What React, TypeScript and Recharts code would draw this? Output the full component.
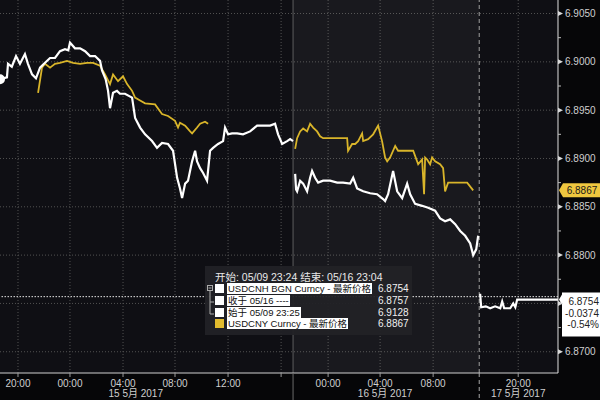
import React from 'react';
import {
  LineChart,
  Line,
  XAxis,
  YAxis,
  CartesianGrid,
  ReferenceLine,
  ReferenceArea,
  ReferenceDot,
} from 'recharts';

const FONT = '"Liberation Sans", Arial, "Noto Sans CJK SC", sans-serif';

// x = hours along Bloomberg's compressed session axis, y = price
const cnhSession1: [number, number][] = [
  [0.0, 6.8982], [0.53, 6.8984], [0.61, 6.8998], [0.9, 6.8995], [1.22, 6.9006],
  [1.52, 6.8998], [1.9, 6.9008], [2.13, 6.8998], [2.44, 6.8987], [2.74, 6.8983],
  [3.05, 6.8994], [3.43, 6.8999], [3.81, 6.9004], [4.19, 6.9004], [4.57, 6.9011],
  [4.95, 6.9013], [5.2, 6.9012], [5.33, 6.902], [5.71, 6.9014], [6.1, 6.9014],
  [6.48, 6.9011], [6.86, 6.9006], [7.24, 6.9006], [7.62, 6.9001], [7.77, 6.8991],
  [8.05, 6.8982], [8.23, 6.897], [8.38, 6.8952], [8.61, 6.8968], [8.91, 6.897],
  [9.14, 6.8967], [9.52, 6.8967], [10.06, 6.8963], [10.29, 6.8942], [10.67, 6.8932],
  [11.05, 6.8925], [11.58, 6.8918], [11.96, 6.8911], [12.34, 6.8916], [12.8, 6.8915],
  [13.18, 6.8908], [13.49, 6.888], [13.71, 6.8869], [13.87, 6.8859], [14.1, 6.8874],
  [14.32, 6.8877], [14.63, 6.8897], [14.86, 6.8908], [15.01, 6.8897], [15.24, 6.889],
  [15.47, 6.8885], [15.77, 6.8877], [16.0, 6.8908], [16.23, 6.8911], [16.61, 6.8915],
  [16.99, 6.8918], [17.14, 6.8932], [17.37, 6.8925], [17.68, 6.8926], [18.06, 6.8926],
  [18.51, 6.8925], [19.05, 6.8928], [19.58, 6.8934], [20.04, 6.8934], [20.57, 6.8934],
  [20.95, 6.8936], [21.18, 6.8925], [21.49, 6.8915], [21.87, 6.8918], [22.1, 6.892],
  [22.32, 6.8918],
];

const cnhSession2: [number, number][] = [
  [22.48, 6.8884], [22.55, 6.8868], [22.63, 6.8866], [22.86, 6.8877], [23.09, 6.8874],
  [23.39, 6.8866], [23.62, 6.888], [23.77, 6.8887], [24.0, 6.888], [24.23, 6.8875],
  [24.61, 6.8877], [25.14, 6.8877], [25.68, 6.8875], [26.13, 6.8875], [26.67, 6.8874],
  [26.9, 6.888], [27.2, 6.8869], [27.66, 6.8866], [28.19, 6.8864], [28.72, 6.8863],
  [29.18, 6.8858], [29.33, 6.8856], [29.56, 6.8863], [29.94, 6.8887], [30.25, 6.8866],
  [30.63, 6.8859], [31.01, 6.8874], [31.24, 6.8863], [31.62, 6.8853], [32.15, 6.8851],
  [32.61, 6.8849], [33.14, 6.8846], [33.52, 6.8838], [33.9, 6.8835], [34.29, 6.8837],
  [34.67, 6.8832], [35.05, 6.8825], [35.43, 6.882], [35.81, 6.8812], [36.04, 6.88],
  [36.27, 6.8806], [36.42, 6.882],
];

const cnhSession3: [number, number][] = [
  [36.57, 6.876], [36.65, 6.8746], [37.0, 6.8747], [37.33, 6.8745], [37.71, 6.8747],
  [38.1, 6.8745], [38.25, 6.8752], [38.4, 6.8745], [38.86, 6.8745], [39.09, 6.875],
  [39.25, 6.8746], [39.39, 6.8754], [42.5, 6.8754],
];

const cnySession1: [number, number][] = [
  [2.9, 6.8968], [3.2, 6.8994], [3.43, 6.8998], [3.81, 6.8994], [4.19, 6.8998],
  [4.57, 6.8999], [5.1, 6.9001], [5.56, 6.8999], [6.1, 6.8998], [6.63, 6.8999],
  [7.09, 6.8999], [7.62, 6.8996], [8.0, 6.8987], [8.38, 6.8977], [8.61, 6.8987],
  [8.99, 6.898], [9.37, 6.8985], [9.68, 6.8977], [10.06, 6.897], [10.29, 6.8963],
  [10.67, 6.896], [11.05, 6.8957], [11.81, 6.8956], [12.34, 6.8946], [12.8, 6.8944],
  [13.33, 6.8939], [13.56, 6.8932], [13.71, 6.8937], [14.1, 6.8934], [14.48, 6.8928],
  [14.63, 6.8926], [15.01, 6.8932], [15.24, 6.8936], [15.62, 6.8938], [15.85, 6.8936],
];

const cnySession2: [number, number][] = [
  [22.48, 6.891], [22.63, 6.8921], [22.86, 6.8928], [23.09, 6.8931], [23.39, 6.8928],
  [23.62, 6.8936], [23.85, 6.8932], [24.15, 6.8928], [24.38, 6.8923], [24.61, 6.8921],
  [26.44, 6.8921], [26.51, 6.8908], [26.82, 6.8915], [27.05, 6.8915], [27.28, 6.8918],
  [27.58, 6.8926], [27.66, 6.8918], [28.04, 6.892], [28.42, 6.8925], [28.8, 6.8934],
  [29.1, 6.8918], [29.33, 6.8901], [29.49, 6.8897], [29.71, 6.8901], [30.1, 6.8913],
  [30.32, 6.8908], [30.7, 6.8908], [31.47, 6.8908], [31.85, 6.8894], [32.15, 6.8899],
  [32.3, 6.8863], [32.38, 6.8901], [32.53, 6.8899], [32.76, 6.8894], [32.91, 6.8901],
  [33.14, 6.8897], [33.52, 6.8894], [33.75, 6.889], [33.9, 6.8866], [34.13, 6.8875],
  [34.29, 6.8875], [35.58, 6.8875], [36.04, 6.8867],
];

const timeTickHours = [1.37, 5.33, 9.37, 13.33, 17.37, 24.99, 28.95, 32.99, 39.47];
const timeTickLabels = ['20:00', '00:00', '04:00', '08:00', '12:00', '00:00', '04:00', '08:00', '20:00'];
const gridHours = [1.37, 5.33, 9.37, 13.33, 17.37, 21.41, 24.99, 28.95, 32.99, 39.47];
const dayBreakHours = [22.32, 36.5];
const dateTickHours = [10.34, 29.33, 39.47];
const dateTickLabels = ['15 5月 2017', '16 5月 2017', '17 5月 2017'];

const yMajor = [6.87, 6.875, 6.88, 6.885, 6.89, 6.895, 6.9, 6.905];
// 6.8750 sits under the last-price box, so it gets no label
const yLabelled = [6.87, 6.88, 6.885, 6.89, 6.895, 6.9, 6.905];
const yTicks = [
  6.87, 6.8725, 6.875, 6.8775, 6.88, 6.8825, 6.885, 6.8875,
  6.89, 6.8925, 6.895, 6.8975, 6.9, 6.9025, 6.905,
];

const lastCnh = 6.8754;
const prevClose = 6.8757;
const lastCny = 6.8867;
const change = '-0.0374';
const changePct = '-0.54%';

const legendHeader = '开始: 05/09 23:24 结束: 05/16 23:04';
const legendLabels = ['USDCNH BGN Curncy - 最新价格', '收于 05/16 ----', '始于 05/09 23:25', 'USDCNY Curncy - 最新价格'];
const legendValues = ['6.8754', '6.8757', '6.9128', '6.8867'];
const legendSwatches = ['#ffffff', '#ffffff', '#ffffff', '#e2bb2e'];

const WHITE = '#ffffff';
const YELLOW = '#d9b52a';

const toPoints = (rows: [number, number][]) => rows.map(([t, v]) => ({ t, v }));

const TimeTick = (props: any) => {
  const { x, y, payload } = props;
  const v = payload.value;
  const idx = timeTickHours.indexOf(v);
  const brk = dayBreakHours.indexOf(v);
  return (
    <g>
      {brk >= 0 ? (
        <line x1={x} x2={x} y1={y} y2={y + 27} stroke={brk === 0 ? '#6a6a6a' : '#a8a8a8'} strokeDasharray={brk === 0 ? undefined : '4 3'} />
      ) : (
        <line x1={x} x2={x} y1={y} y2={y + 4} stroke="#9a9a9a" />
      )}
      {idx >= 0 && (
        <text x={x} y={y + 14} textAnchor="middle" fill="#cfcfcf" fontSize={10} fontFamily={FONT}>
          {timeTickLabels[idx]}
        </text>
      )}
    </g>
  );
};

const DateTick = (props: any) => {
  const { x, y, payload } = props;
  const idx = dateTickHours.indexOf(payload.value);
  return (
    <text x={x} y={y + 11} textAnchor="middle" fill="#cfcfcf" fontSize={10} fontFamily={FONT}>
      {dateTickLabels[idx]}
    </text>
  );
};

const PriceTick = (props: any) => {
  const { x, y, payload } = props;
  const major = yMajor.includes(payload.value);
  const labelled = yLabelled.includes(payload.value);
  return (
    <g>
      {major ? (
        <polygon points={`${x},${y - 2.5} ${x + 5},${y} ${x},${y + 2.5}`} fill="#d8d8d8" />
      ) : (
        <line x1={x} x2={x + 3} y1={y} y2={y} stroke="#bbbbbb" />
      )}
      {labelled && (
        <text x={x + 7} y={y} dy={3.5} fill="#cfcfcf" fontSize={10} fontFamily={FONT}>
          {payload.value.toFixed(4)}
        </text>
      )}
    </g>
  );
};

const CnyBadge = (props: any) => {
  const { cx, cy } = props;
  const l = cx + 1;
  return (
    <g>
      <polygon
        points={`${l},${cy} ${l + 4},${cy - 7} ${l + 41},${cy - 7} ${l + 41},${cy + 7} ${l + 4},${cy + 7}`}
        fill="#efc73f"
      />
      <text x={l + 23} y={cy} dy={3.5} textAnchor="middle" fill="#1a1a1a" fontSize={10} fontFamily={FONT}>
        {lastCny.toFixed(4)}
      </text>
    </g>
  );
};

const CnhBox = (props: any) => {
  const { cx, cy } = props;
  const l = cx + 1;
  return (
    <g>
      <polygon
        points={`${l},${cy} ${l + 3},${cy - 5} ${l + 3},${cy - 7} ${l + 41},${cy - 7} ${l + 41},${cy + 37} ${l + 3},${cy + 37} ${l + 3},${cy + 5}`}
        fill="#ffffff"
      />
      {[lastCnh.toFixed(4), change, changePct].map((s, i) => (
        <text key={i} x={l + 40} y={cy + 2 + i * 11.5} dy={3.5} textAnchor="end" fill="#222" fontSize={10} fontFamily={FONT}>
          {s}
        </text>
      ))}
    </g>
  );
};

const Legend = () => (
  <div
    style={{
      position: 'absolute',
      left: 205,
      top: 266,
      width: 207,
      height: 69,
      background: 'rgba(34,34,38,0.95)',
      fontFamily: FONT,
      fontSize: 10,
      color: '#e8e8e8',
    }}
  >
    <div style={{ position: 'absolute', left: 10, top: 3, whiteSpace: 'nowrap', fontSize: 10.5 }}>{legendHeader}</div>
    <svg width={10} height={40} style={{ position: 'absolute', left: 1, top: 18 }}>
      <rect x={1.5} y={1.5} width={5} height={5} fill="none" stroke="#aaa" />
      <line x1={2.5} x2={5.5} y1={4} y2={4} stroke="#aaa" />
      <line x1={4} x2={4} y1={7} y2={30} stroke="#aaa" />
      <line x1={4} x2={8} y1={18} y2={18} stroke="#aaa" />
      <line x1={4} x2={8} y1={30} y2={30} stroke="#aaa" />
    </svg>
    {legendLabels.map((label, i) => (
      <div key={i} style={{ position: 'absolute', left: 10, top: 17 + i * 11.8, height: 11, display: 'flex', alignItems: 'center', width: 195 }}>
        <span style={{ width: 9, height: 9, background: legendSwatches[i], display: 'inline-block', marginRight: 3 }} />
        <span style={{ background: '#ffffff', color: '#111', padding: '0 1px', lineHeight: '11px', whiteSpace: 'nowrap', fontSize: 9.5 }}>
          {label}
        </span>
        <span style={{ position: 'absolute', left: 163, whiteSpace: 'nowrap', fontSize: 10, color: '#f0f0f0' }}>{legendValues[i]}</span>
      </div>
    ))}
  </div>
);

const App = () => {
  return (
    <div style={{ position: 'absolute', left: 0, top: 0, width: 600, height: 400, background: '#060608' }}>
      <LineChart width={600} height={400} margin={{ top: 0, right: 0, left: 0, bottom: 0 }}>
        <CartesianGrid
          fill="#0f0f14"
          stroke="#525252"
          strokeDasharray="1 2"
          verticalValues={gridHours}
          horizontalValues={yMajor}
        />
        <ReferenceArea x1={dayBreakHours[0]} x2={dayBreakHours[1]} fill="#ffffff" fillOpacity={0.045} stroke="none" />
        <XAxis
          dataKey="t"
          type="number"
          domain={[0, 42.5]}
          allowDataOverflow
          ticks={[...gridHours, ...dayBreakHours].sort((a, b) => a - b)}
          interval={0}
          height={13}
          tickSize={0}
          tickMargin={0}
          tick={<TimeTick />}
          axisLine={{ stroke: '#cfcfcf' }}
          tickLine={false}
        />
        <XAxis
          xAxisId="date"
          dataKey="t"
          type="number"
          domain={[0, 42.5]}
          allowDataOverflow
          ticks={dateTickHours}
          interval={0}
          height={14}
          tickSize={0}
          tickMargin={0}
          tick={<DateTick />}
          axisLine={false}
          tickLine={false}
        />
        <YAxis
          orientation="right"
          type="number"
          domain={[6.8678, 6.9064]}
          allowDataOverflow
          ticks={yTicks}
          interval={0}
          width={42}
          tickSize={0}
          tickMargin={0}
          tick={<PriceTick />}
          axisLine={{ stroke: '#e0e0e0' }}
          tickLine={false}
        />
        <ReferenceLine x={dayBreakHours[0]} stroke="#5e5e5e" />
        <ReferenceLine x={dayBreakHours[1]} stroke="#a0a0a0" strokeDasharray="4 3" />
        <ReferenceLine y={prevClose} stroke="#e6e6e6" strokeDasharray="1.5 1.5" />
        <Line data={toPoints(cnySession1)} dataKey="v" type="linear" stroke={YELLOW} strokeWidth={1.8} dot={false} isAnimationActive={false} />
        <Line data={toPoints(cnySession2)} dataKey="v" type="linear" stroke={YELLOW} strokeWidth={1.8} dot={false} isAnimationActive={false} />
        <Line data={toPoints(cnhSession1)} dataKey="v" type="linear" stroke={WHITE} strokeWidth={2.2} dot={false} isAnimationActive={false} />
        <Line data={toPoints(cnhSession2)} dataKey="v" type="linear" stroke={WHITE} strokeWidth={2.2} dot={false} isAnimationActive={false} />
        <Line data={toPoints(cnhSession3)} dataKey="v" type="linear" stroke={WHITE} strokeWidth={2.2} dot={false} isAnimationActive={false} />
        <ReferenceDot x={42.5} y={lastCny} r={0} ifOverflow="visible" shape={(p: any) => <CnyBadge {...p} />} />
        <ReferenceDot x={42.5} y={lastCnh} r={0} ifOverflow="visible" shape={(p: any) => <CnhBox {...p} />} />
      </LineChart>
      <Legend />
    </div>
  );
};

export default App;
